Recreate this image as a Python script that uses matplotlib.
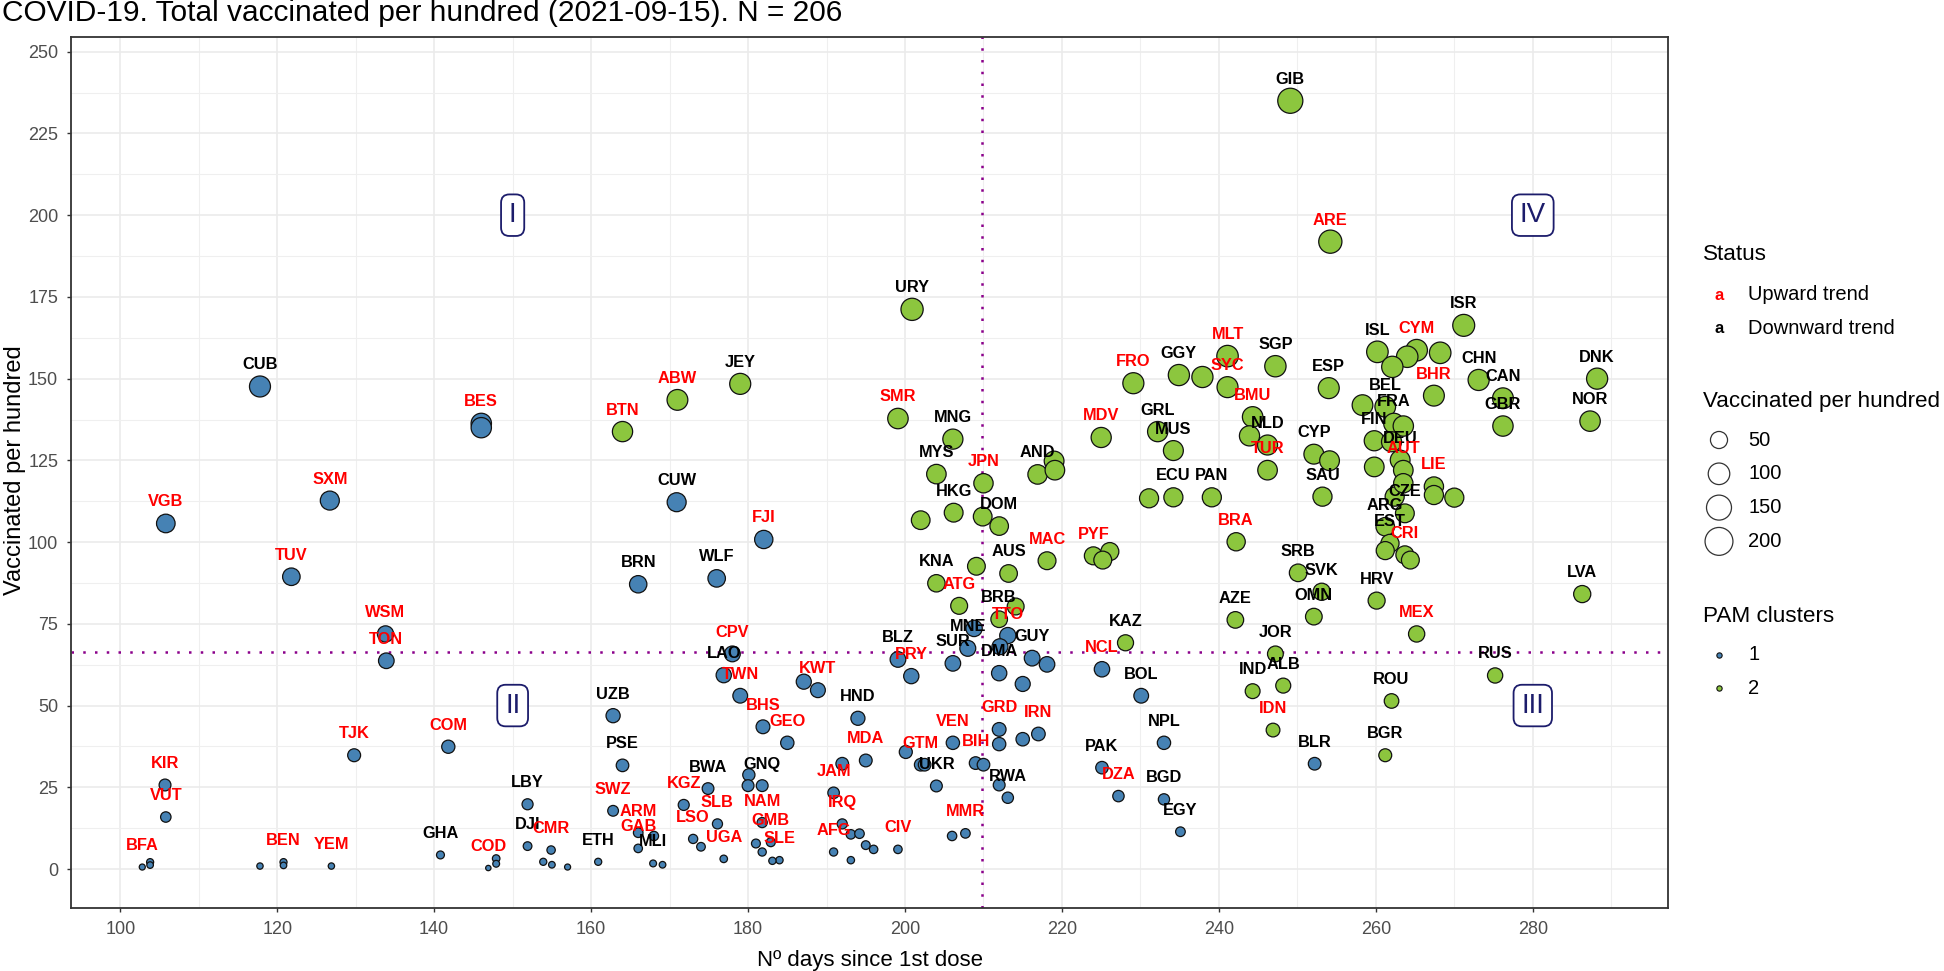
import numpy as np
import matplotlib
matplotlib.use("Agg")
import matplotlib.pyplot as plt

plt.rcParams['font.family'] = ['Liberation Sans', 'DejaVu Sans']

# ---------------- data ----------------
codes = [
 "CUB","BES","","VGB","SXM","TUV","WSM","TON","TJK","COM",
 "KIR","VUT","BFA","","","","BEN","","YEM","GHA",
 "LBY","DJI","COD","","","CMR","","","","CUW",
 "FJI","BRN","WLF","CPV","LAO","TWN","KWT","","UZB","BHS",
 "GEO","HND","PSE","MDA","","JAM","","GTM","","UKR",
 "VEN","BIH","","BWA","","","GNQ","KGZ","SWZ","SLB",
 "NAM","IRQ","ARM","LSO","GMB","GAB","","ETH","MLI","",
 "UGA","SLE","","AFG","CIV","MMR","","","","",
 "","","","","","PRY","BLZ","SUR","MNE","",
 "TTO","GUY","","DMA","","","NCL","BOL","GRD","",
 "IRN","","RWA","","PAK","DZA","NPL","BGD","EGY","BLR",
 # cluster 2
 "BTN","ABW","JEY","SMR","MNG","MYS","URY","HKG","","KNA",
 "","ATG","JPN","AND","","","DOM","","MAC","AUS",
 "PYF","","","BRB","","KAZ","MDV","GRL","MUS","ECU",
 "","PAN","BRA","AZE","GIB","ARE","FRO","GGY","","MLT",
 "SYC","SGP","ESP","BMU","NLD","","TUR","CYP","","SAU",
 "ISL","CYM","","","","ISR","BHR","BEL","","FRA",
 "","FIN","DEU","","AUT","","LIE","","","CZE",
 "","ARG","EST","CRI","","","CHN","CAN","GBR","DNK",
 "NOR","SRB","SVK","OMN","HRV","MEX","LVA","JOR","RUS","IND",
 "ALB","IDN","ROU","BGR","",
]
days = [
 117.8,146.0,146.0,105.8,126.7,121.8,133.8,133.9,129.8,141.8,
 105.7,105.8,102.8,103.8,103.8,117.8,120.8,120.8,126.9,140.8,
 151.9,151.9,146.9,147.9,147.9,154.9,153.9,155.0,157.0,170.9,
 182.0,166.0,176.0,178.0,176.9,179.0,188.9,187.1,162.8,181.9,
 185.0,194.0,164.0,195.0,192.0,190.9,200.1,202.0,202.5,204.0,
 206.1,209.0,210.0,174.9,180.1,180.0,181.8,171.8,162.8,176.1,
 181.8,192.0,166.0,173.0,182.9,166.0,168.0,160.9,167.9,169.1,
 176.9,184.0,183.1,190.9,199.1,207.7,206.0,174.0,181.0,181.8,
 193.1,194.2,193.1,195.0,196.0,200.8,199.1,206.1,208.0,208.8,
 213.1,216.2,218.1,212.0,212.1,215.0,225.1,230.1,212.0,212.0,
 217.0,215.0,213.1,212.0,225.1,227.2,233.0,233.0,235.1,252.2,
 164.0,171.0,179.0,199.1,206.1,204.0,200.9,206.2,202.0,204.0,
 209.1,206.9,210.0,216.9,219.0,219.1,212.0,209.9,218.1,213.2,
 224.0,226.1,225.2,212.0,214.1,228.1,225.0,232.2,234.2,234.2,
 231.1,239.1,242.2,242.1,249.1,254.2,229.1,234.9,237.9,241.1,
 241.1,247.2,254.0,244.3,246.2,243.9,246.2,252.1,254.1,253.2,
 260.2,265.2,268.2,264.0,262.1,271.2,267.4,261.2,258.3,262.3,
 263.5,259.8,263.1,262.0,263.5,259.8,267.4,267.4,270.0,263.7,
 262.4,261.2,261.8,263.7,261.2,264.4,273.1,276.2,276.2,288.2,
 287.3,250.1,253.1,252.1,260.1,265.2,286.3,247.2,275.2,244.3,
 248.2,246.9,262.0,261.2,263.5,
]
vacc = [
 147.6,136.3,135.0,105.7,112.7,89.4,71.9,63.7,34.8,37.4,
 25.7,15.9,0.6,2.1,1.2,0.9,2.1,1.1,0.9,4.3,
 19.8,7.0,0.3,3.2,1.6,5.8,2.2,1.3,0.6,112.2,
 100.8,87.1,88.9,65.8,59.3,53.0,54.7,57.3,46.9,43.5,
 38.6,46.1,31.7,33.2,32.2,23.3,35.8,31.9,31.9,25.4,
 38.6,32.4,31.9,24.6,28.8,25.5,25.5,19.6,17.8,13.8,
 14.2,13.8,11.1,9.2,8.2,6.3,10.1,2.2,1.7,1.3,
 3.1,2.7,2.5,5.2,6.0,10.9,10.1,6.8,7.8,5.2,
 10.6,10.8,2.7,7.3,6.0,59.0,64.1,62.9,67.5,73.6,
 71.4,64.5,62.6,59.9,68.0,56.6,61.1,53.0,42.7,38.2,
 41.3,39.7,21.8,25.7,31.0,22.3,38.6,21.3,11.4,32.2,
 133.8,143.5,148.4,137.8,131.5,120.8,171.2,109.0,106.7,87.4,
 92.6,80.5,118.0,120.7,124.8,122.0,104.9,107.8,94.3,90.4,
 95.8,97.1,94.5,76.4,80.3,69.2,132.0,133.8,128.0,113.7,
 113.4,113.7,100.1,76.2,235.0,191.9,148.6,151.1,150.5,156.9,
 147.4,153.8,147.1,138.3,129.7,132.5,122.0,126.9,124.9,113.9,
 158.2,158.7,157.9,156.7,153.6,166.3,144.8,141.4,141.9,136.3,
 135.5,131.0,125.1,130.7,122.0,123.0,117.0,114.4,113.6,108.8,
 113.9,104.7,99.6,96.1,97.4,94.5,149.6,144.0,135.5,150.0,
 137.0,90.6,84.8,77.2,82.1,71.9,84.1,65.8,59.2,54.4,
 56.1,42.5,51.4,34.8,118.0,
]
n1 = 110
cluster = [1] * n1 + [2] * (len(codes) - n1)
upward = {"BES","VGB","SXM","TUV","WSM","TON","TJK","COM","KIR","VUT","BFA","BEN",
          "YEM","COD","CMR","FJI","CPV","TWN","KWT","BHS","GEO","MDA","JAM","GTM",
          "VEN","BIH","KGZ","SWZ","SLB","NAM","IRQ","ARM","LSO","GMB","GAB","UGA",
          "SLE","AFG","CIV","MMR","PRY","TTO","NCL","GRD","IRN","DZA","BTN","ABW",
          "SMR","ATG","JPN","MAC","PYF","MDV","BRA","ARE","FRO","MLT","SYC","BMU",
          "TUR","CYM","BHR","AUT","LIE","CRI","MEX","IDN"}
trend = [1 if c in upward else 0 for c in codes]

quad_labels = ["I", "II", "III", "IV"]
quad_x = [150, 150, 280, 280]
quad_y = [200, 50, 50, 200]
median_days = 209.8
median_vacc = 66.5
xticks = list(range(100, 281, 20))
yticks = list(range(0, 251, 25))
size_breaks = [50, 100, 150, 200]
cluster_names = ["1", "2"]
status_names = ["Upward trend", "Downward trend"]

# ---------------- styling ----------------
W, H = 1944, 971
fill_cols = {1: "#4682B4", 2: "#8CC63E"}
lab_cols = {1: "#FF0000", 0: "#000000"}
days_a = np.array(days); vacc_a = np.array(vacc)
vmin, vmax = vacc_a.min(), vacc_a.max()

def gg_area(v):
    size = 1 + 5 * np.sqrt((np.asarray(v, float) - vmin) / (vmax - vmin))
    return (size * 2.845 + 1.0) ** 2

fig = plt.figure(figsize=(W / 100, H / 100), dpi=100)
L, R, T, B = 70.7, 1668.3, 36.7, 908.0
ax = fig.add_axes([L / W, 1 - B / H, (R - L) / W, (B - T) / H])
ax.set_xlim(93.68, 297.27)
ax.set_ylim(-11.93, 254.6)
ax.set_xticks(xticks)
ax.set_yticks(yticks)
ax.set_xticks(np.arange(110, 297, 20), minor=True)
ax.set_yticks(np.arange(12.5, 250, 25), minor=True)
ax.grid(which="major", color="#EBEBEB", lw=1.2, zorder=0)
ax.grid(which="minor", color="#EFEFEF", lw=0.8, zorder=0)
ax.set_axisbelow(True)
ax.tick_params(which="major", length=3, width=1, color="#333333",
               labelcolor="#4D4D4D", labelsize=13, pad=6)
ax.tick_params(which="minor", length=0)
for sp in ax.spines.values():
    sp.set_color("#333333"); sp.set_linewidth(1.3)

ax.axvline(median_days, color="#8B008B", lw=1.8, ls=(0, (1, 3.7)), zorder=1.5)
ax.axhline(median_vacc, color="#8B008B", lw=1.8, ls=(0, (1, 3.7)), zorder=1.5)

cols = [fill_cols[c] for c in cluster]
ax.scatter(days_a, vacc_a, s=gg_area(vacc_a), c=cols, edgecolors="#111111",
           linewidths=0.9, zorder=3)

for c, d, v, t in zip(codes, days, vacc, trend):
    if c:
        ax.annotate(c, (d, v), xytext=(0, 15.5), textcoords="offset points",
                    ha="center", va="center", fontsize=11.8, fontweight="bold",
                    color=lab_cols[t], zorder=5)

for lab, qx, qy in zip(quad_labels, quad_x, quad_y):
    ax.text(qx, qy, lab, ha="center", va="center", fontsize=20, color="#1C1C6B",
            zorder=6,
            bbox=dict(boxstyle="round,pad=0.28,rounding_size=0.3", fc="white",
                      ec="#1C1C6B", lw=1.3))

# titles
fig.text(2 / W, 1 - 21 / H, "COVID-19. Total vaccinated per hundred (2021-09-15). N = 206",
         fontsize=21.5, ha="left", va="baseline")
fig.text(15 / W, 1 - 470 / H, "Vaccinated per hundred", rotation=90,
         ha="center", va="center", fontsize=17)
fig.text((L + R) / 2 / W, 1 - 960 / H, "Nº days since 1st dose",
         ha="center", va="center", fontsize=16)

# legend (pixel coordinate overlay)
lax = fig.add_axes([0, 0, 1, 1])
lax.set_xlim(0, W); lax.set_ylim(H, 0); lax.axis("off")
kx, tx, hx = 1719, 1748, 1703
lax.text(hx, 254, "Status", fontsize=16.2, va="center", ha="left")
for i, (nm, col) in enumerate(zip(status_names, ["#FF0000", "#000000"])):
    yy = 295 + 33.5 * i
    lax.text(kx, yy, "a", color=col, fontweight="bold", fontsize=12, ha="center", va="center")
    lax.text(tx, yy, nm, fontsize=14.5, va="center", ha="left")
lax.text(hx, 402, "Vaccinated per hundred", fontsize=16.1, va="center", ha="left")
for i, b in enumerate(size_breaks):
    yy = 440 + 33.8 * i
    lax.scatter([kx], [yy], s=gg_area(b) * 1.4, facecolors="none", edgecolors="#333333",
                linewidths=0.9)
    lax.text(tx, yy, str(b), fontsize=14.5, va="center", ha="left")
lax.text(hx, 617, "PAM clusters", fontsize=16.2, va="center", ha="left")
for i, nm in enumerate(cluster_names):
    yy = 655 + 33.5 * i
    lax.scatter([kx], [yy], s=(1 * 2.845) ** 2 * 1.8, c=fill_cols[i + 1],
                edgecolors="#111111", linewidths=0.8)
    lax.text(tx, yy, nm, fontsize=14.5, va="center", ha="left")

fig.savefig("out.png", dpi=100)
